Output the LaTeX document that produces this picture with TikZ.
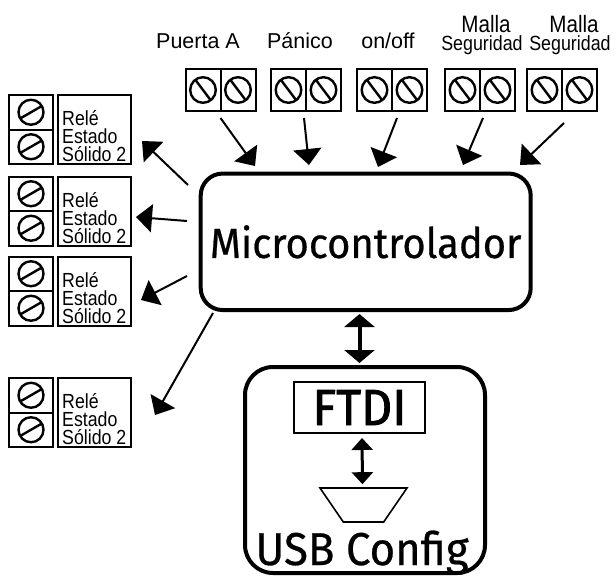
\documentclass[tikz,border=0pt]{standalone}
\usepackage{fontspec}
\setmainfont{Liberation Sans}
\newfontfamily\narrowfont[FakeStretch=0.87]{Liberation Sans}
\newfontfamily\dinfont[FakeStretch=0.95,FakeBold=0.6]{Fira Sans}
\newfontfamily\dinbold[FakeStretch=0.95,FakeBold=1.6]{Fira Sans}
\usetikzlibrary{arrows.meta,positioning,calc,shapes.geometric}

\tikzset{
  tornillo/.style = {draw, line width=2pt, inner sep=0pt, outer sep=0pt,
    minimum width=35pt, minimum height=42pt,
    path picture={\draw[line width=2.4pt] (path picture bounding box.center) circle (12.8pt)
      +(127:12.8pt) -- +(-53:12.8pt);}},
  tornillol/.style = {draw, line width=2pt, inner sep=0pt, outer sep=0pt,
    minimum width=44pt, minimum height=34.5pt,
    path picture={\draw[line width=2.4pt] (path picture bounding box.center) circle (12.5pt)
      +(210:12.5pt) -- +(30:12.5pt);}},
  rele/.style = {draw, line width=2pt, minimum width=73pt, minimum height=69pt},
  reletxt/.style = {inner sep=0pt, align=left, font=\narrowfont\fontsize{20.4}{18}\selectfont},
  etiq/.style = {inner sep=0pt, font=\fontsize{21.5}{24}\selectfont},
  malla/.style = {inner sep=0pt, align=center, font=\narrowfont\fontsize{23.7}{17.5}\selectfont},
  caja/.style = {draw, line width=4pt, rounded corners=22pt},
  flecha/.style = {-{Triangle[width=28pt,length=16pt]}, line width=2pt},
  doble/.style = {{Triangle[width=30pt,length=13pt]}-{Triangle[width=30pt,length=13pt]}, line width=4pt},
}

\begin{document}
\begin{tikzpicture}[x=1pt,y=-1pt]
    \useasboundingbox (0,0) rectangle (614,576);
    % entradas (borneras de arriba)
    \foreach \n/\x in {pa/203, pp/288.5, po/374.5, pm/462.5, ps/544.5} {
      \node[tornillo] (\n1) at (\x,90) {};
      \node[tornillo, right=0pt of \n1] (\n2) {};
    }
    \node[etiq, anchor=base] (lpa) at (198,48) {Puerta A};
    \node[etiq, anchor=base] (lpp) at (300,48) {Pánico};
    \node[etiq, anchor=base] (lpo) at (388,48) {on/off};
    \node[malla, anchor=south] (lpm) at (482,54.5)
      {\hspace*{8pt}Malla\\{\fontsize{20.5}{17.5}\selectfont Seguridad}};
    \node[malla, anchor=south] (lps) at (570,54.5)
      {\hspace*{8pt}Malla\\{\fontsize{20.5}{17.5}\selectfont Seguridad}};
    % salidas (reles)
    \foreach \i/\y in {1/129.5, 2/211, 3/291, 4/412.5} {
      \node[tornillol] (sa\i) at (31,\y-17.25) {};
      \node[tornillol, below=0pt of sa\i] (sb\i) {};
      \node[rele] (r\i) at (94.5,\y) {};
      \node[reletxt, anchor=north west] (t\i) at ([shift={(5pt,-16.5pt)}]r\i.north west) {Relé\\Estado\\Sólido 2};
    }
    % bloques
    \node[caja, minimum width=330pt, minimum height=136.5pt,
      font=\dinfont\fontsize{42}{48}\selectfont] (micro) at (365.7,241.8) {Microcontrolador};
    \node[caja, rounded corners=28pt, minimum width=240pt, minimum height=206pt] (usb) at (365,470) {};
    \node[draw, line width=2pt, minimum width=131pt, minimum height=51pt, inner sep=0pt,
      font=\dinbold\fontsize{50.8}{56}\selectfont] (ftdi) at (359.5,407.5) {FTDI};
    \node[draw, line width=1.6pt, trapezium, trapezium stretches=true, shape border rotate=180,
      trapezium angle=60, minimum width=87pt, minimum height=34pt] (conector) at (363.5,505) {};
    \node[anchor=base, inner sep=0pt, font=\dinfont\fontsize{46}{52}\selectfont] (lusb) at (362,565) {USB Config};
    % flechas
    \foreach \i/\x/\y in {1/255/166, 2/309/165, 3/378/167, 4/463/165, 5/520/165}
      \coordinate (e\i) at (\x,\y);
    \draw[flecha] ([shift={(0pt,-7pt)}]pa1.south east) -- (e1);
    \draw[flecha] ([shift={(-2pt,-7pt)}]pp1.south east) -- (e2);
    \draw[flecha] ([shift={(5pt,-7pt)}]po1.south east) -- (e3);
    \draw[flecha] ([shift={(3pt,-7pt)}]pm1.south east) -- (e4);
    \draw[flecha] ([shift={(2pt,-12pt)}]ps1.south east) -- (e5);
    \foreach \i/\xa/\ya/\xb/\yb in {1/188/185/142/141, 2/187/221/136/217, 3/187/276/141/300, 4/213/313/155/415} {
      \coordinate (m\i) at (\xa,\ya);
      \coordinate (o\i) at (\xb,\yb);
      \draw[flecha] (m\i) -- (o\i);
    }
    \draw[doble, shorten <=2pt, shorten >=2pt] (micro.south -| ftdi.north) -- (usb.north -| ftdi.north);
    \draw[{Triangle[width=21pt,length=12pt]}-{Triangle[width=21pt,length=12pt]}, line width=3pt,
      shorten <=4pt, shorten >=3pt] ([xshift=2.5pt]ftdi.south) -- ([xshift=-1pt]conector.north);
\end{tikzpicture}
\end{document}
